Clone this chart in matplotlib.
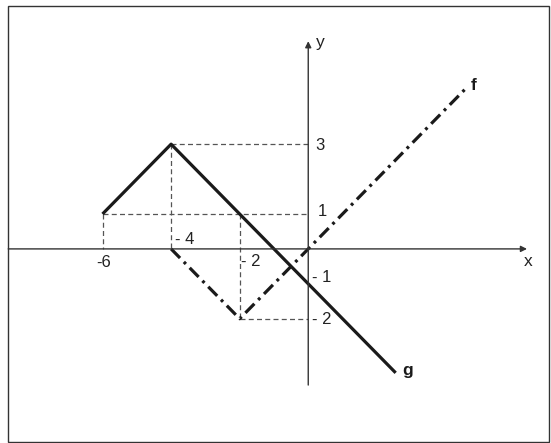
import matplotlib

matplotlib.use("Agg")
import matplotlib.pyplot as plt
from matplotlib.patches import Rectangle

# piecewise functions
g_x = [-6, -4, 2.55]
g_y = [1, 3, -3.55]
f_x = [-4, -2, 4.6]
f_y = [0, -2, 4.6]

# dashed guide lines: (x0, y0, x1, y1)
guides = [
    (-4, 3, 0, 3),
    (-6, 1, 0, 1),
    (-2, -2, 0, -2),
    (-6, 1, -6, 0),
    (-4, 3, -4, 0),
    (-2, 1, -2, -2),
]

# tick labels and where they sit relative to the point they mark
x_labels = ["-6", "- 4", "- 2"]
x_label_pos = [(-6.18, -0.4), (-3.89, 0.26), (-1.97, -0.37)]
y_labels = ["3", "1", "- 1", "- 2"]
y_label_pos = [(0.22, 2.95), (0.28, 1.06), (0.12, -0.83), (0.12, -2.03)]

plt.rcParams["font.family"] = ["Liberation Sans", "DejaVu Sans"]

fig = plt.figure(figsize=(5.51, 4.43), dpi=100)
ax = fig.add_axes([0, 0, 1, 1])
ax.set_xlim(-8.99, 7.08)
ax.set_ylim(-5.56, 7.13)
ax.axis("off")

# frame around the picture
fig.patches.append(Rectangle((8 / 551, 1.5 / 443), 541 / 551, 435.5 / 443,
                             transform=fig.transFigure, fill=False,
                             edgecolor="#333333", lw=1.0))

arrow = dict(arrowstyle="-|>", lw=1.0, color="#333333", mutation_scale=9,
             shrinkA=0, shrinkB=0)
ax.annotate("", xy=(6.38, 0), xytext=(-8.75, 0), arrowprops=arrow)
ax.annotate("", xy=(0, 5.95), xytext=(0, -3.9), arrowprops=arrow)

for x0, y0, x1, y1 in guides:
    ax.plot([x0, x1], [y0, y1], color="#555555", lw=0.9, ls=(0, (4, 2.6)))

ax.plot(g_x, g_y, color="#1a1a1a", lw=2.3, solid_capstyle="butt")
ax.plot(f_x, f_y, color="#1a1a1a", lw=2.3, ls=(0, (4, 1.7, 0.9, 1.7)),
        dash_capstyle="butt")

for txt, (x, y) in zip(x_labels, x_label_pos):
    ax.text(x, y, txt, fontsize=12, ha="left", va="center", color="#222222")
for txt, (x, y) in zip(y_labels, y_label_pos):
    ax.text(x, y, txt, fontsize=12, ha="left", va="center", color="#222222")

ax.text(0.22, 5.9, "y", fontsize=12.5, ha="left", va="center", color="#222222")
ax.text(6.4, -0.37, "x", fontsize=12.5, ha="center", va="center", color="#222222")
ax.text(4.83, 4.67, "f", fontsize=12.5, ha="center", va="center",
        fontweight="bold", color="#1a1a1a")
ax.text(2.9, -3.47, "g", fontsize=12.5, ha="center", va="center",
        fontweight="bold", color="#1a1a1a")

fig.savefig("out.png", dpi=100)
plt.close(fig)
